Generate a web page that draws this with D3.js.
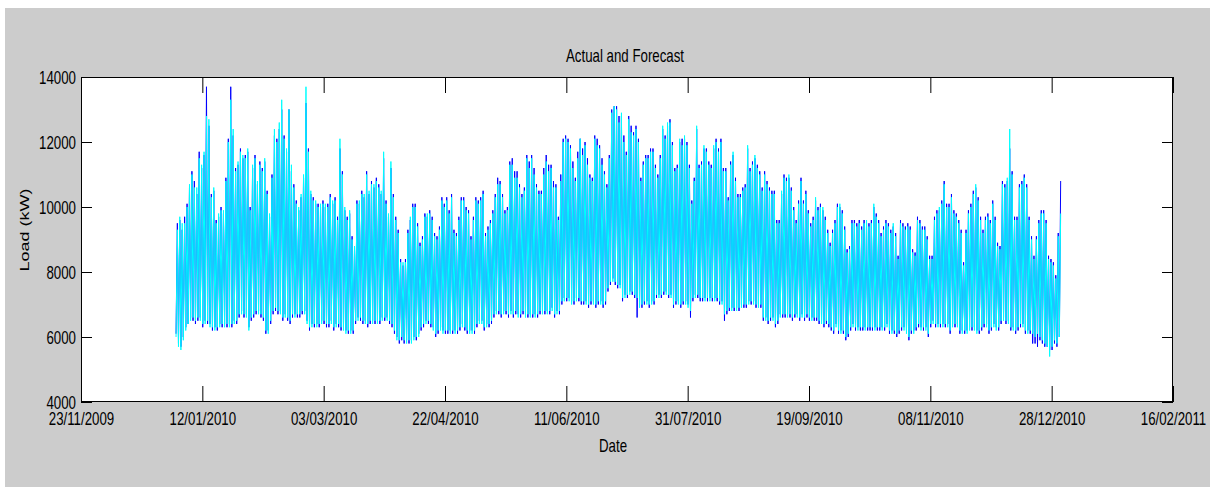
<!DOCTYPE html>
<html>
<head>
<meta charset="utf-8">
<script src="https://cdn.jsdelivr.net/npm/d3@7"></script>
<style>
  body { margin: 0; background: #ffffff; }
  text { font-family: "Liberation Sans", Arial, sans-serif; fill: #000; }
</style>
</head>
<body>
<svg id="chart" width="1212" height="491"></svg>
<script>
// tick labels
const xTickLabels = ["23/11/2009", "12/01/2010", "03/03/2010", "22/04/2010", "11/06/2010",
    "31/07/2010", "19/09/2010", "08/11/2010", "28/12/2010", "16/02/2011"];
const yTicks = [4000, 6000, 8000, 10000, 12000, 14000];

// one entry per day from 01/01/2010, values in hundreds of kW
const firstDay = "01/01/2010";

// daily peak / trough of the actual load (blue)
const actualHigh = [
    95,96,93,97,101,106,111, 108,104,117,112,116,137,125, 104,105,96,97,100,98,109,
    121,137,122,112,113,118,115, 116,117,100,112,116,107,114, 112,114,105,97,110,122,121,
    124,130,122,117,130,111,107, 102,99,103,109,132,118,104, 103,101,101,100,102,100,101,
    104,101,103,97,118,111,99, 97,98,91,87,102,101,105, 103,111,104,108,106,109,107,
    104,115,102,97,112,104,97, 93,84,82,84,93,96,101, 101,95,89,91,98,97,99,
    97,92,91,94,103,101,103, 99,104,93,92,97,103,103, 100,99,91,97,103,102,103,
    105,92,94,96,99,104,109, 108,104,99,100,114,115,111, 111,107,104,106,116,114,116,
    112,107,105,105,112,116,113, 113,108,107,97,110,121,122, 121,119,114,109,117,121,118,
    120,115,110,109,122,121,119, 115,111,107,116,130,131,131, 128,128,122,117,128,125,123,
    125,121,109,114,116,116,118, 118,113,110,116,124,122,125, 127,120,112,113,120,121,121,
    120,113,102,109,124,113,114, 118,118,114,113,118,121,118, 121,112,112,103,114,116,109,
    104,104,106,107,118,112,114, 115,113,111,106,111,108,106, 105,105,96,96,104,110,109,
    109,106,100,96,102,109,102, 105,99,95,97,102,100,101, 99,97,93,89,93,96,101,
    100,99,94,87,88,96,96, 95,96,94,96,95,95,96, 100,98,96,92,94,96,95,
    93,94,92,85,96,95,94, 95,94,87,86,97,96,94, 94,91,85,85,97,99,99,
    102,108,101,101,104,99,98, 96,93,83,93,99,101,105, 106,103,97,93,97,98,96,
    102,97,89,88,108,107,108, 118,111,97,97,107,108,110, 107,97,91,85,91,96,99,
    99,96,85,84,83,79,92, 108
];
const actualLow = [
    61,58,57,60,63,64,66, 65,64,65,66,63,65,64, 64,62,63,62,64,63,64,
    63,64,63,65,64,66,68, 66,67,63,65,66,67,68, 66,65,61,62,64,67,68,
    67,68,65,67,65,64,66, 67,66,66,67,68,65,62, 64,63,64,63,65,64,63,
    63,65,62,64,63,62,63, 62,61,62,61,64,66,65, 64,65,63,64,65,64,65,
    64,66,65,66,64,63,61, 60,58,59,58,59,58,59, 60,59,61,62,63,65,64,
    63,63,60,61,63,62,61, 61,62,61,62,61,62,64, 62,61,62,62,61,63,65,
    65,62,64,63,64,66,68, 67,66,68,67,66,68,66, 67,67,66,67,67,66,67,
    66,67,66,67,68,67,68, 67,69,66,68,67,70,72, 71,72,71,70,72,71,70,
    70,71,69,70,71,69,70, 71,69,70,74,76,78,76, 75,76,71,73,72,74,73,
    72,66,70,69,70,71,69, 71,70,72,73,72,73,74, 72,73,69,70,71,69,70,
    71,70,66,71,73,72,71, 71,72,71,72,71,72,71, 70,71,65,67,68,69,68,
    69,68,70,69,69,71,70, 71,69,70,69,65,66,64, 65,66,63,64,67,66,66,
    67,66,65,66,67,65,67, 65,66,65,66,65,65,64, 65,63,64,63,62,61,64,
    61,62,61,59,60,62,64, 62,63,62,62,63,62,62, 62,63,62,62,63,62,64,
    61,62,61,60,61,62,63, 62,59,61,62,62,63,63, 62,63,60,63,65,63,64,
    63,64,63,64,61,64,63, 64,61,62,61,62,63,62, 63,62,61,62,63,64,61,
    62,64,63,62,64,66,64, 65,62,63,61,62,63,64, 61,62,61,58,58,57,59,
    58,57,57,56,56,58,57, 60
];

// daily peak / trough of the forecast (cyan)
const forecastHigh = [
    93,97,95,95,100,107,110, 106,106,115,113,117,128,127, 103,106,95,98,99,99,108,
    120,133,124,111,114,117,116, 115,118,99,113,115,108,113, 111,115,104,98,109,124,120,
    126,133,121,118,130,113,106, 101,100,104,110,137,117,105, 102,102,100,101,101,101,100,
    103,102,102,96,121,110,100, 96,99,90,88,101,102,104, 104,110,105,107,107,108,106,
    105,117,101,98,114,103,96, 92,83,83,83,92,97,100, 100,94,88,90,97,98,98,
    96,91,90,93,102,100,102, 98,103,92,91,96,102,102, 99,98,90,96,102,101,102,
    104,91,93,95,98,103,107, 107,103,98,99,113,113,109, 109,106,103,105,115,112,115,
    110,106,104,104,110,114,111, 112,106,106,96,108,120,121, 120,118,112,108,115,121,116,
    119,113,109,108,121,119,118, 113,110,106,115,129,131,130, 126,129,120,116,127,123,122,
    124,120,108,113,115,115,117, 117,112,109,115,125,121,126, 126,119,111,112,121,119,122,
    119,112,101,108,125,112,113, 119,117,113,112,119,120,117, 120,111,111,102,113,117,108,
    103,103,105,106,119,111,113, 116,112,110,105,110,107,105, 104,104,95,95,105,109,108,
    110,105,99,95,101,108,101, 104,98,94,96,103,99,100, 100,96,92,88,92,95,100,
    101,98,93,86,87,95,95, 94,95,93,95,96,94,95, 101,97,95,91,93,95,94,
    92,95,91,84,95,94,93, 94,93,86,85,96,95,93, 93,90,84,84,96,98,100,
    101,107,100,100,103,98,97, 95,92,82,92,98,100,104, 107,102,96,92,96,97,95,
    101,96,88,87,107,106,109, 124,110,96,96,106,107,109, 106,96,90,84,90,95,98,
    98,95,84,83,82,78,91, 98
];
const forecastLow = [
    60,57,56,59,62,64,65, 66,65,66,65,64,64,65, 63,63,62,63,63,64,63,
    64,63,64,64,65,67,67, 67,66,62,66,67,68,67, 67,66,62,61,65,68,69,
    68,67,66,66,66,65,67, 66,67,67,68,67,64,63, 63,64,63,64,64,65,64,
    64,64,63,63,64,63,62, 61,62,61,62,65,65,66, 65,64,64,65,64,65,64,
    65,65,66,65,65,64,62, 59,59,60,59,58,59,58, 59,60,60,63,64,64,65,
    64,62,61,62,62,61,62, 62,61,62,61,62,63,63, 63,62,61,61,62,64,64,
    64,63,63,64,65,67,67, 68,67,67,68,67,67,67, 68,66,67,68,66,67,66,
    67,66,67,68,67,68,67, 68,68,67,67,68,71,71, 72,71,70,71,71,72,71,
    71,70,70,71,70,70,71, 70,70,71,75,77,77,77, 76,75,72,72,73,73,74,
    73,72,69,70,71,70,70, 70,71,73,72,73,74,73, 73,72,70,71,70,70,71,
    70,69,68,72,72,73,72, 72,71,72,71,72,71,72, 71,70,67,68,69,68,69,
    68,69,69,70,70,70,71, 70,70,69,70,66,65,65, 66,65,64,65,66,67,67,
    66,67,66,67,66,66,66, 66,67,66,65,66,66,65, 64,64,65,64,63,62,63,
    62,61,62,60,61,63,63, 63,62,63,63,62,63,63, 63,62,63,63,62,63,63,
    62,61,62,61,62,63,62, 61,60,62,61,63,64,62, 63,62,61,64,64,64,63,
    64,63,64,63,62,63,64, 63,62,61,62,61,62,63, 62,61,62,63,64,63,62,
    63,63,62,63,65,65,65, 64,63,62,62,63,64,63, 62,61,62,61,60,61,60,
    59,58,57,54,57,59,58, 60
];

// hours of the day where the trough and the peak are placed
const lowHour = 4, highHour = 17;

const svg = d3.select("#chart");
const parseDay = d3.utcParse("%d/%m/%Y");
const xTickDates = xTickLabels.map(parseDay);
const start = parseDay(firstDay);

const plotLeft = 81, plotRight = 1173, plotTop = 77, plotBottom = 402;
const sx = 0.7; // the text in the picture is narrow

const x = d3.scaleUtc()
    .domain([xTickDates[0], xTickDates[xTickDates.length - 1]])
    .range([plotLeft, plotRight]);
const y = d3.scaleLinear().domain([4000, 14000]).range([plotBottom, plotTop]);

// figure background
svg.append("rect").attr("x", 5).attr("y", 8).attr("width", 1205).attr("height", 479)
    .attr("fill", "#cccccc");
svg.append("rect").attr("x", plotLeft).attr("y", plotTop)
    .attr("width", plotRight - plotLeft).attr("height", plotBottom - plotTop)
    .attr("fill", "#ffffff");

function series(lo, hi) {
    let pts = [];
    lo.forEach(function (v, i) {
        let day = d3.utcDay.offset(start, i);
        pts.push({t: d3.utcHour.offset(day, lowHour), v: v * 100});
        pts.push({t: d3.utcHour.offset(day, highHour), v: hi[i] * 100});
    });
    return pts;
}

const line = d3.line().x(d => x(d.t)).y(d => y(d.v));

svg.append("path")
    .datum(series(actualLow, actualHigh))
    .attr("d", line)
    .attr("fill", "none")
    .attr("stroke", "#0000ff")
    .attr("stroke-width", 1)
    .attr("stroke-linejoin", "round");

svg.append("path")
    .datum(series(forecastLow, forecastHigh))
    .attr("d", line)
    .attr("fill", "none")
    .attr("stroke", "#00ffff")
    .attr("stroke-width", 1)
    .attr("stroke-linejoin", "round");

// axes, ticks pointing inside the box
const gx = svg.append("g").attr("transform", `translate(0,${plotBottom})`)
    .call(d3.axisBottom(x).tickValues(xTickDates).tickSizeInner(-16).tickSizeOuter(0)
        .tickFormat((d, i) => xTickLabels[i]));
gx.selectAll("text").attr("y", 23).attr("dy", null)
    .attr("transform", `scale(${sx},1)`).style("font-size", "19px");

svg.append("g").attr("transform", `translate(0,${plotTop})`)
    .call(d3.axisTop(x).tickValues(xTickDates).tickSizeInner(-16).tickSizeOuter(0).tickFormat(""));

const gy = svg.append("g").attr("transform", `translate(${plotLeft},0)`)
    .call(d3.axisLeft(y).tickValues(yTicks).tickSizeInner(-11).tickSizeOuter(0)
        .tickPadding(5 / sx).tickFormat(d3.format("d")));
gy.selectAll("text").attr("dy", "0.35em")
    .attr("transform", `scale(${sx},1)`).style("font-size", "19px");

svg.append("g").attr("transform", `translate(${plotRight},0)`)
    .call(d3.axisRight(y).tickValues(yTicks).tickSizeInner(-11).tickSizeOuter(0).tickFormat(""));

svg.selectAll(".domain").remove();
svg.selectAll(".tick line").attr("stroke", "#000");

svg.append("rect").attr("x", plotLeft + 0.5).attr("y", plotTop + 0.5)
    .attr("width", plotRight - plotLeft - 1).attr("height", plotBottom - plotTop - 1)
    .attr("fill", "none").attr("stroke", "#000").attr("stroke-width", 1);

// titles
svg.append("text")
    .attr("transform", `translate(625,62) scale(${sx},1)`)
    .attr("text-anchor", "middle").style("font-size", "19px")
    .text("Actual and Forecast");

svg.append("text")
    .attr("transform", `translate(613,452) scale(${sx},1)`)
    .attr("text-anchor", "middle").style("font-size", "19px")
    .text("Date");

svg.append("text")
    .attr("transform", `translate(29,230) scale(${sx},1) rotate(-90)`)
    .attr("text-anchor", "middle").style("font-size", "18px")
    .text("Load (kW)");
</script>
</body>
</html>
